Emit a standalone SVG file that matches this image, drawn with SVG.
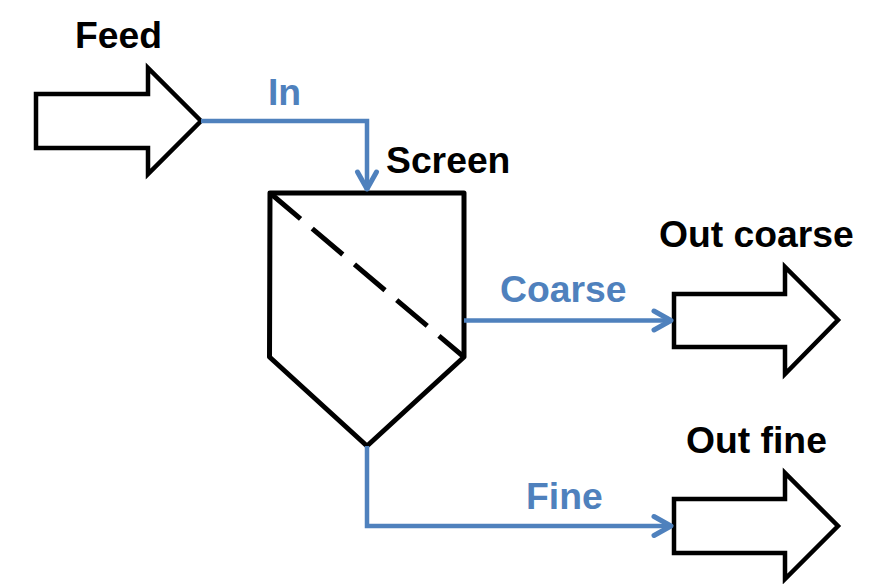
<svg xmlns="http://www.w3.org/2000/svg" width="877" height="584" viewBox="0 0 877 584">
<style>
.s{fill:#fff;stroke:#000;stroke-width:4.500;stroke-linejoin:miter}
.r{stroke-width:5;stroke-linejoin:round}
.b{font:bold 37.300px "Liberation Sans",Arial,sans-serif;fill:#000}
.c{font:bold 37.300px "Liberation Sans",Arial,sans-serif;fill:#4f81bd}
.l{fill:none;stroke:#4f81bd;stroke-width:4.500}
.h{fill:none;stroke:#4f81bd;stroke-width:5;stroke-linecap:round;stroke-linejoin:round}
</style>
<rect width="877" height="584" fill="#fff"/>
<g id="feed"><path class="s" d="M36 94H148V68L201 121L148 174V148H36Z"/><text class="b" x="75" y="47.500">Feed</text></g>
<g id="screen"><path class="s r" d="M270 193H464V357L367 446L269.500 357Z"/><path d="M270 193L464 357" fill="none" stroke="#000" stroke-width="5" stroke-dasharray="40 15.300"/><text class="b" x="386" y="173">Screen</text></g>
<g id="out-coarse"><path class="s" d="M674 294H785V267L838 320L785 374V347H674Z"/><text class="b" x="659" y="247">Out coarse</text></g>
<g id="out-fine"><path class="s" d="M674 499H785V473L838 526L785 579V553H674Z"/><text class="b" x="686" y="453">Out fine</text></g>
<g id="connectors">
<path class="l" d="M201 121H367V190"/><path class="h" d="M357.500 172L367 189L376.500 172"/>
<path class="l" d="M464 320.500H671"/><path class="h" d="M654 311L671 320.500L654 330"/>
<path class="l" d="M367 446V526H671"/><path class="h" d="M654 516.500L671 526L654 535.500"/>
<text class="c" x="268" y="104.500">In</text>
<text class="c" x="500" y="301.500">Coarse</text>
<text class="c" x="526" y="508.500">Fine</text>
</g>
</svg>
